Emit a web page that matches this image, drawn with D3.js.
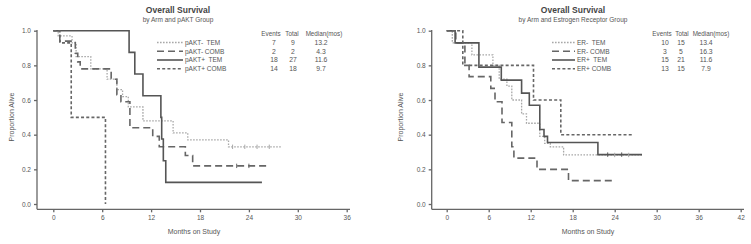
<!DOCTYPE html>
<html>
<head>
<meta charset="utf-8">
<script src="https://cdn.jsdelivr.net/npm/d3@7"></script>
<style>
  body { margin: 0; background: #fff; }
  svg { display: block; font-family: "Liberation Sans", Arial, sans-serif; }
</style>
</head>
<body>
<div id="chart"></div>
<script>
// Kaplan-Meier step points [month, proportion alive]
var paktNegTem = [[0,1],[0.6,0.97],[2.3,0.93],[2.8,0.85],[4.6,0.78],[6.6,0.72],[7.8,0.66],[8.5,0.62],[9.2,0.56],[11.0,0.48],[14.7,0.41],[16.5,0.37],[21.5,0.33],[28,0.33]];
var paktNegComb = [[0,1],[0.8,0.94],[2.7,0.87],[3.0,0.82],[3.3,0.78],[7.1,0.72],[7.8,0.63],[8.3,0.59],[9.4,0.44],[12.2,0.39],[13.0,0.33],[16.2,0.28],[17.1,0.22],[26.6,0.22]];
var paktPosTem = [[0,1],[9.3,0.875],[10.0,0.75],[11.0,0.625],[13.2,0.5],[13.3,0.375],[13.5,0.25],[13.8,0.125],[25.6,0.125]];
var paktPosComb = [[0,1],[0.8,0.93],[2.2,0.5],[6.4,0]];

var erNegTem = [[0,1],[0.8,0.93],[3.6,0.86],[6.6,0.8],[7.5,0.72],[8.6,0.68],[9.3,0.6],[10.7,0.52],[11.4,0.466],[13.3,0.39],[14.0,0.35],[14.8,0.33],[16.7,0.283],[28.1,0.283]];
var erNegComb = [[0,1],[1.3,0.93],[2.6,0.8],[3.2,0.735],[6.3,0.667],[6.9,0.59],[7.9,0.47],[9.3,0.33],[9.6,0.265],[12.9,0.2],[17.4,0.135],[24,0.135]];
var erPosTem = [[0,1],[1.2,0.93],[4.6,0.79],[7.8,0.715],[10.7,0.64],[11.8,0.57],[13.3,0.43],[13.9,0.39],[14.4,0.355],[21.6,0.285],[27.9,0.285]];
var erPosComb = [[0,1],[2.3,0.8],[12.4,0.6],[16.3,0.4],[26.7,0.4]];

// censored observations (months)
var paktNegTemCens = [22, 23.5, 25, 26.5];
var paktNegCombCens = [22.5, 24];
var erNegTemCens = [24, 26];
var erPosTemCens = [23, 25];

// legend labels and summary table
var paktLabels = ["pAKT-  TEM", "pAKT- COMB", "pAKT+  TEM", "pAKT+ COMB"];
var paktEvents = ["7", "2", "18", "14"];
var paktTotal = ["9", "2", "27", "18"];
var paktMedian = ["13.2", "4.3", "11.6", "9.7"];

var erLabels = ["ER-  TEM", "ER- COMB", "ER+  TEM", "ER+ COMB"];
var erEvents = ["10", "3", "15", "13"];
var erTotal = ["15", "5", "21", "15"];
var erMedian = ["13.4", "16.3", "11.6", "7.9"];

var yTicks = [0, 0.2, 0.4, 0.6, 0.8, 1.0];
var xTicksLeft = [0, 6, 12, 18, 24, 30, 36];
var xTicksRight = [0, 6, 12, 18, 24, 30, 36, 42];

// line styles: dotted light, long dash, solid, short dash
var styles = [
  {stroke: "#a8a8a8", dash: "1.6,1.4", width: 1.3},
  {stroke: "#666", dash: "7,4", width: 1.6},
  {stroke: "#555", dash: null, width: 1.6},
  {stroke: "#666", dash: "3,2.2", width: 1.6}
];

var svg = d3.select("#chart").append("svg")
  .attr("width", 751)
  .attr("height", 244);

function drawPanel(cfg) {
  var g = svg.append("g");

  var x = d3.scaleLinear().domain([0, cfg.xMax]).range([cfg.x0, cfg.x1]);
  var y = d3.scaleLinear().domain([0, 1]).range([204, 30.7]);

  // title
  g.append("text")
    .attr("x", cfg.titleX).attr("y", 12.5)
    .attr("text-anchor", "middle")
    .style("font-size", "8.5px").style("font-weight", "bold").attr("fill", "#444")
    .text("Overall Survival");
  g.append("text")
    .attr("x", cfg.titleX).attr("y", 21.5)
    .attr("text-anchor", "middle")
    .style("font-size", "6.5px").attr("fill", "#555")
    .text(cfg.subtitle);

  // y axis (offset from plot)
  var yAxis = g.append("g")
    .attr("transform", "translate(" + cfg.axisX + ",0)")
    .call(d3.axisLeft(y).tickValues(yTicks).tickFormat(d3.format(".1f")).tickSize(3).tickSizeOuter(0));
  yAxis.select(".domain").attr("d", "M0,30V209.3");

  // x axis
  var xAxis = g.append("g")
    .attr("transform", "translate(0,209.3)")
    .call(d3.axisBottom(x).tickValues(cfg.xTicks).tickSize(3).tickSizeOuter(0));
  xAxis.select(".domain").attr("d", "M" + cfg.axisX + ",0H" + cfg.axisEnd);

  g.selectAll(".tick text").style("font-size", "6.5px").attr("fill", "#555");
  g.selectAll(".domain, .tick line").attr("stroke", "#666").attr("stroke-width", 1.3);
  xAxis.selectAll(".tick text").attr("dy", "0.95em").attr("y", 5);

  // axis labels
  g.append("text")
    .attr("transform", "translate(" + cfg.yLabelX + ",117) rotate(-90)")
    .attr("text-anchor", "middle")
    .style("font-size", "7px").attr("fill", "#555")
    .text("Proportion Alive");
  g.append("text")
    .attr("x", cfg.xLabelX).attr("y", 234)
    .attr("text-anchor", "middle")
    .style("font-size", "7px").attr("fill", "#555")
    .text("Months on Study");

  // survival curves
  var line = d3.line()
    .x(d => x(d[0]))
    .y(d => y(d[1]))
    .curve(d3.curveStepAfter);

  cfg.series.forEach((s, i) => {
    g.append("path")
      .datum(s)
      .attr("fill", "none")
      .attr("stroke", styles[i].stroke)
      .attr("stroke-width", styles[i].width)
      .attr("stroke-dasharray", styles[i].dash)
      .attr("d", line);
  });

  // censor ticks
  cfg.censors.forEach(c => {
    var s = cfg.series[c.idx];
    c.times.forEach(t => {
      var v = s.filter(p => p[0] <= t).pop()[1];
      g.append("line")
        .attr("x1", x(t)).attr("x2", x(t))
        .attr("y1", y(v) - 2.2).attr("y2", y(v) + 2.2)
        .attr("stroke", styles[c.idx].stroke)
        .attr("stroke-width", 1);
    });
  });

  // legend
  var rowY = [42.5, 51.3, 60, 68.7];
  cfg.labels.forEach((lab, i) => {
    g.append("line")
      .attr("x1", cfg.legX).attr("x2", cfg.legX + cfg.legLen)
      .attr("y1", rowY[i]).attr("y2", rowY[i])
      .attr("stroke", styles[i].stroke)
      .attr("stroke-width", styles[i].width)
      .attr("stroke-dasharray", styles[i].dash);
    g.append("text")
      .attr("x", cfg.legX + cfg.legLen + 2).attr("y", rowY[i] + 2.4)
      .style("font-size", "6.5px").attr("fill", "#555")
      .style("white-space", "pre")
      .text(lab);
  });

  // summary table
  var cols = [
    {head: "Events", hx: cfg.headX[0], x: cfg.tabX[0], vals: cfg.events},
    {head: "Total", hx: cfg.headX[1], x: cfg.tabX[1], vals: cfg.total},
    {head: "Median(mos)", hx: cfg.headX[2], x: cfg.tabX[2], vals: cfg.median}
  ];
  cols.forEach(c => {
    g.append("text")
      .attr("x", c.hx).attr("y", 35.5)
      .attr("text-anchor", "middle")
      .style("font-size", "6.3px").attr("fill", "#555")
      .text(c.head);
    c.vals.forEach((v, i) => {
      g.append("text")
        .attr("x", c.x).attr("y", rowY[i] + 2.4)
        .attr("text-anchor", "middle")
        .style("font-size", "6.8px").attr("fill", "#555")
        .text(v);
    });
  });
}

drawPanel({
  xMax: 36, x0: 53.3, x1: 346.7, xTicks: xTicksLeft,
  axisX: 37, axisEnd: 350,
  titleX: 178, subtitle: "by Arm and pAKT Group",
  yLabelX: 14, xLabelX: 194,
  series: [paktNegTem, paktNegComb, paktPosTem, paktPosComb],
  censors: [{idx: 0, times: paktNegTemCens}, {idx: 1, times: paktNegCombCens}],
  labels: paktLabels, legX: 157, legLen: 26,
  events: paktEvents, total: paktTotal, median: paktMedian,
  headX: [271, 292, 324],
  tabX: [274, 293, 321]
});

drawPanel({
  xMax: 42, x0: 446.7, x1: 740.7, xTicks: xTicksRight,
  axisX: 431.7, axisEnd: 744,
  titleX: 573, subtitle: "by Arm and Estrogen Receptor Group",
  yLabelX: 403, xLabelX: 588,
  series: [erNegTem, erNegComb, erPosTem, erPosComb],
  censors: [{idx: 0, times: erNegTemCens}, {idx: 2, times: erPosTemCens}],
  labels: erLabels, legX: 552, legLen: 23,
  events: erEvents, total: erTotal, median: erMedian,
  headX: [662, 682, 711],
  tabX: [665, 681, 706]
});
</script>
</body>
</html>
